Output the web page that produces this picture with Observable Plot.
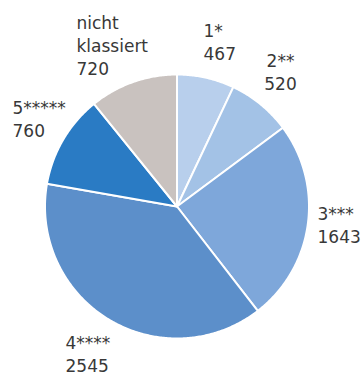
<!DOCTYPE html>
<html>
<head>
<meta charset="utf-8">
<script src="https://cdn.jsdelivr.net/npm/d3@7"></script>
<script src="https://cdn.jsdelivr.net/npm/@observablehq/plot@0.6"></script>
<style>
  html, body { margin: 0; padding: 0; background: #fff; }
  #chart { width: 363px; height: 374px; }
</style>
</head>
<body>
<div id="chart"></div>
<script>
// ---- data ----
const categories = ["1*", "2**", "3***", "4****", "5*****", "nicht\nklassiert"];
const values = [467, 520, 1643, 2545, 760, 720];

// ---- styles / layout ----
const colors = ["#b8cfec", "#a3c2e6", "#7ea7da", "#5c8fca", "#2a7bc4", "#c9c2bf"];
const labelX = [203, 280, 317, 65, 12, 76];
const labelY = [59, 89, 242, 371, 136, 74];
const labelAnchor = ["start", "middle", "start", "start", "start", "start"];

const W = 363, H = 374;
const cx = 176.5, cy = 206, R = 132;

const arcs = d3.pie().sort(null).value(d => d)(values);
const slices = [];
arcs.forEach((a, i) => {
  const steps = Math.max(2, Math.ceil((a.endAngle - a.startAngle) / 0.01));
  slices.push({cat: categories[i], x: cx, y: cy});
  for (let k = 0; k <= steps; k++) {
    const t = a.startAngle + (a.endAngle - a.startAngle) * k / steps;
    slices.push({cat: categories[i], x: cx + R * Math.sin(t), y: cy - R * Math.cos(t)});
  }
  slices.push({cat: categories[i], x: cx, y: cy});
});

const labels = categories.map((c, i) => ({
  text: c + "\n" + values[i],
  x: labelX[i], y: labelY[i], anchor: labelAnchor[i]
}));

const textOpts = {
  x: "x", y: "y", text: "text",
  lineAnchor: "bottom", lineHeight: 23 / 17,
  fontSize: 17, fill: "#383838", fontFamily: "DejaVu Sans"
};

const chart = Plot.plot({
  width: W, height: H,
  margin: 0,
  x: {domain: [0, W], range: [0, W], axis: null},
  y: {domain: [0, H], range: [0, H], axis: null},
  color: {domain: categories, range: colors},
  style: {fontFamily: "DejaVu Sans", background: "#fff"},
  marks: [
    Plot.line(slices, {x: "x", y: "y", z: "cat", fill: "cat", stroke: "#fff", strokeWidth: 2, strokeLinejoin: "round", curve: "linear"}),
    Plot.text(labels.filter(d => d.anchor === "start"), {...textOpts, textAnchor: "start"}),
    Plot.text(labels.filter(d => d.anchor === "middle"), {...textOpts, textAnchor: "middle"})
  ]
});
document.getElementById("chart").appendChild(chart);
</script>
</body>
</html>
